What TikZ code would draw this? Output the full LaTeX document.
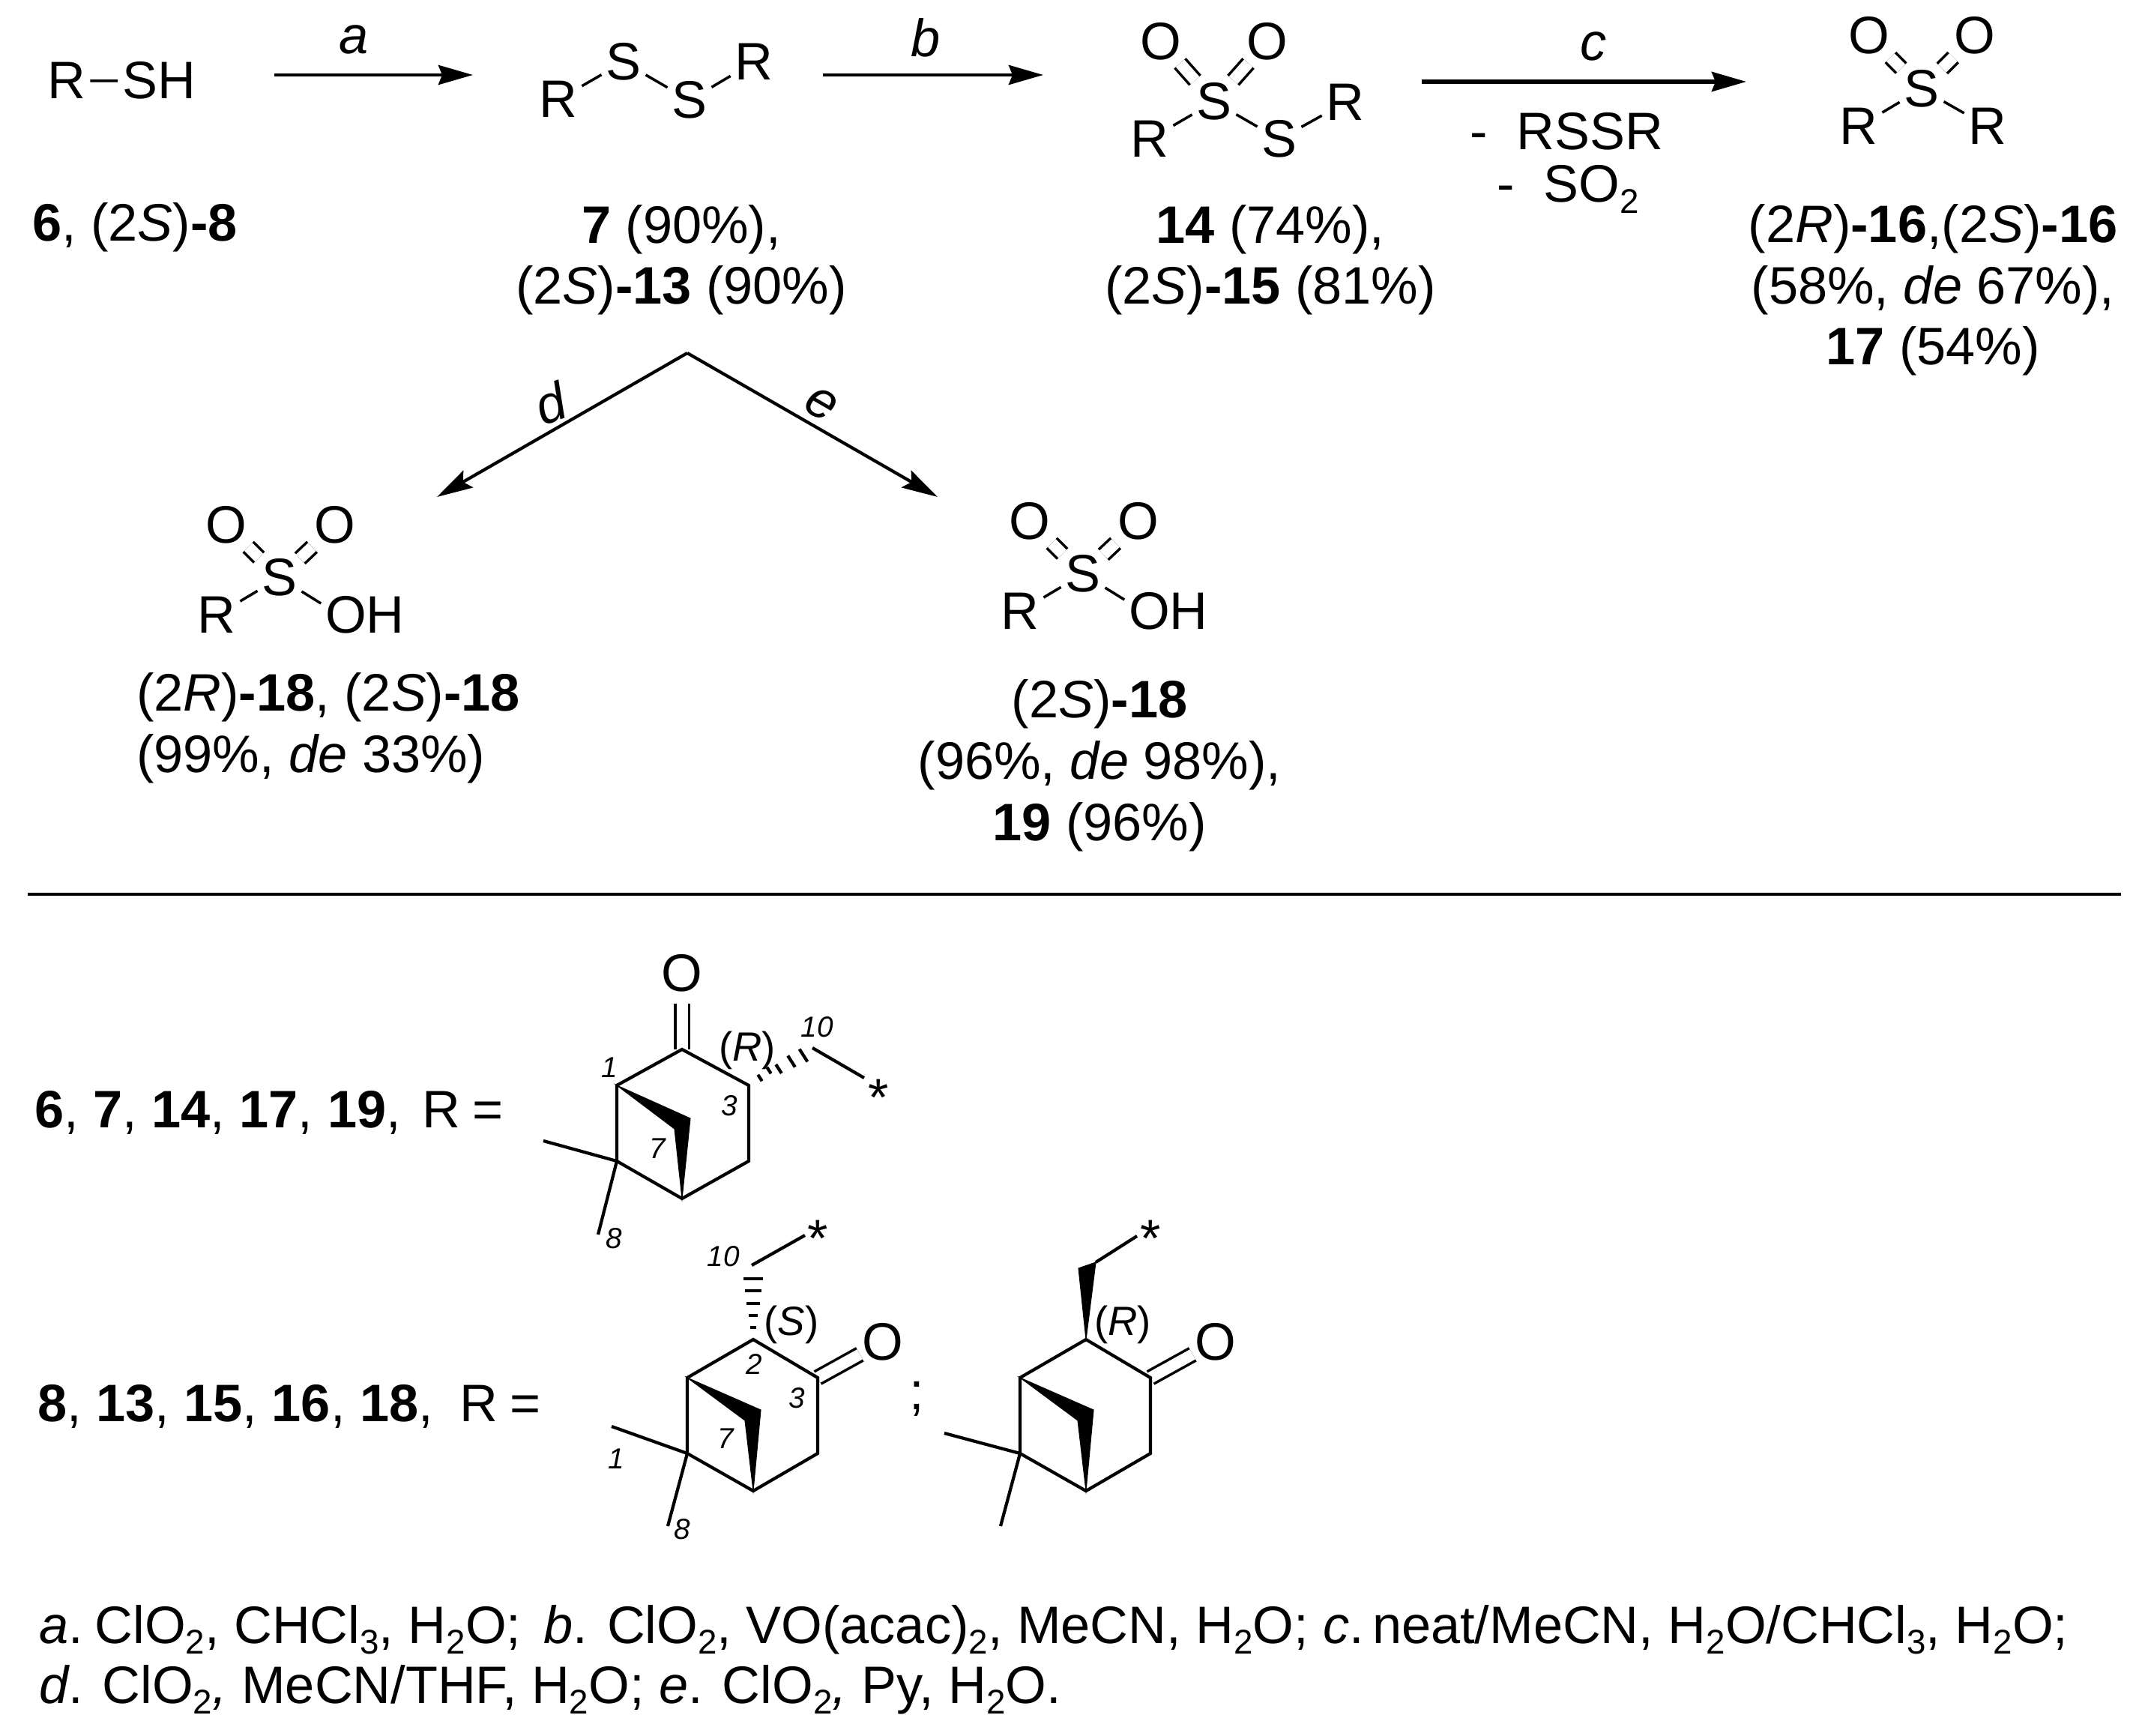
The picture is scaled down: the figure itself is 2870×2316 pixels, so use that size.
\documentclass[tikz,border=0pt]{standalone}
\usepackage{fontspec}
\setmainfont{Liberation Sans}
\usetikzlibrary{arrows.meta,positioning}
\newcommand{\subs}[1]{\raisebox{-4pt}{\fontsize{13}{13}\selectfont #1}}
\tikzset{
  txt/.style={anchor=base,inner sep=0pt,outer sep=0pt,font=\fontsize{20}{23.3}\selectfont},
  atom/.style={txt,inner sep=0.6mm},
  ltxt/.style={txt,anchor=base west},
  mtxt/.style={txt,align=center},
  cfg/.style={txt,font=\fontsize{15.5}{18}\selectfont},
  num/.style={txt,font=\fontsize{11}{13}\selectfont\itshape},
  bond/.style={line width=1.2pt},
  thin bond/.style={line width=1pt},
  dbl bond/.style={line width=1pt,double,double distance=1.5mm,shorten <=-0.3mm,shorten >=-0.3mm},
  hash/.style={line width=1.2pt},
  rxn/.style={line width=1.3pt,-{Stealth[length=4.6mm,width=2.6mm,inset=0.5mm]}},
  fork/.style={line width=1.2pt,-{Stealth[length=4.8mm,width=2.6mm,inset=0.8mm]}}
}
\begin{document}
\begin{tikzpicture}[x=0.01cm,y=-0.01cm]
  \useasboundingbox (0,0) rectangle (2870,2316);
  % top row
  \node[atom] (r0) at (89,132) {R};
  \node[atom] (sh0) at (212,132) {SH};
  \draw[thin bond] (r0) -- (sh0);
  \node[ltxt] (lab6) at (43,322) {\textbf{6}, (2\textit{S})\textbf{-8}};
  \coordinate (a0) at (366,100);
  \coordinate (a1) at (631,100);
  \draw[rxn] (a0) -- (a1);
  \node[txt] (la) at (472,72) {\textit{a}};

  \node[atom] (r1) at (745,157) {R};
  \node[atom] (s1) at (832,107) {S};
  \node[atom] (s2) at (920,158) {S};
  \node[atom] (r2) at (1006,107) {R};
  \draw[thin bond] (r1) -- (s1);
  \draw[thin bond] (s1) -- (s2);
  \draw[thin bond] (s2) -- (r2);
  \node[mtxt] (lab7) at (909,406) {\textbf{7} (90\%),\\(2\textit{S})\textbf{-13} (90\%)};
  \coordinate (b0) at (1098,100);
  \coordinate (b1) at (1392,100);
  \draw[rxn] (b0) -- (b1);
  \node[txt] (lb) at (1235,76) {\textit{b}};

  \node[atom] (o3) at (1549,80) {O};
  \node[atom] (o4) at (1691,80) {O};
  \node[atom] (s3) at (1620,160) {S};
  \node[atom] (r3) at (1534,210) {R};
  \node[atom] (s4) at (1707,210) {S};
  \node[atom] (r4) at (1795,161) {R};
  \draw[dbl bond] (s3) -- (o3);
  \draw[dbl bond] (s3) -- (o4);
  \draw[thin bond] (r3) -- (s3);
  \draw[thin bond] (s3) -- (s4);
  \draw[thin bond] (s4) -- (r4);
  \node[mtxt] (lab14) at (1695,406) {\textbf{14} (74\%),\\(2\textit{S})\textbf{-15} (81\%)};
  \coordinate (c0) at (1897,109);
  \coordinate (c1) at (2330,109);
  \draw[rxn,line width=1.6pt] (c0) -- (c1);
  \node[txt] (lc) at (2126,81) {\textit{c}};
  \node[ltxt] (loss1) at (1961,200) {-\ \ RSSR};
  \node[ltxt] (loss2) at (1997,270) {-\ \ SO\subs{2}};

  \node[atom] (o5) at (2494,72) {O};
  \node[atom] (o6) at (2635,72) {O};
  \node[atom] (s5) at (2564,143) {S};
  \node[atom] (r5) at (2480,193) {R};
  \node[atom] (r6) at (2652,193) {R};
  \draw[dbl bond] (s5) -- (o5);
  \draw[dbl bond] (s5) -- (o6);
  \draw[thin bond] (r5) -- (s5);
  \draw[thin bond] (s5) -- (r6);
  \node[mtxt] (lab16) at (2579,487) {(2\textit{R})\textbf{-16},(2\textit{S})\textbf{-16}\\(58\%, \textit{de} 67\%),\\\textbf{17} (54\%)};

  % fork
  \coordinate (fk) at (917,471);
  \coordinate (d1) at (583,663);
  \coordinate (e1) at (1251,663);
  \draw[fork] (fk) -- (d1);
  \draw[fork] (fk) -- (e1);
  \node[txt,anchor=center,rotate=20] (ld) at (735,538) {\textit{d}};
  \node[txt,anchor=center,rotate=-30] (le) at (1096,539) {\textit{e}};

  % sulfonic acids
  \foreach \p/\dx/\dy in {u/0/0,v/1072/-5}{
    \begin{scope}[shift={(\dx,\dy)}]
      \node[atom] (\p o1) at (302,725) {O};
      \node[atom] (\p o2) at (447,725) {O};
      \node[atom] (\p s) at (373,795) {S};
      \node[atom] (\p r) at (289,845) {R};
      \node[atom] (\p oh) at (487,845) {OH};
      \draw[dbl bond] (\p s) -- (\p o1);
      \draw[dbl bond] (\p s) -- (\p o2);
      \draw[thin bond] (\p r) -- (\p s);
      \draw[thin bond] (\p s) -- (\p oh.165);
    \end{scope}
  }
  \node[mtxt,align=left,anchor=base west] (lab18) at (182,1030) {(2\textit{R})\textbf{-18}, (2\textit{S})\textbf{-18}\\(99\%, \textit{de} 33\%)};
  \node[mtxt] (lab19) at (1467,1121) {(2\textit{S})\textbf{-18}\\(96\%, \textit{de} 98\%),\\\textbf{19} (96\%)};

  % rule
  \coordinate (rl) at (37,1193);
  \coordinate (rr) at (2830,1193);
  \draw[line width=1.4pt] (rl) -- (rr);

  % R = first
  \node[ltxt] (rdef1) at (46,1504) {\textbf{6}, \textbf{7}, \textbf{14}, \textbf{17}, \textbf{19},\ \kern-3pt\ R\kern-1pt\ =};
  \node[ltxt] (rdef2) at (50,1896) {\textbf{8}, \textbf{13}, \textbf{15}, \textbf{16}, \textbf{18},\ \kern-1pt\ R\kern-1pt\ =};

  \coordinate (a2) at (910,1400);
  \coordinate (a3) at (999,1448);
  \coordinate (a4) at (999,1549);
  \coordinate (a5) at (910,1599);
  \coordinate (a6) at (823,1549);
  \coordinate (a7) at (823,1448);
  \coordinate (aw1) at (921,1492);
  \coordinate (aw2) at (900,1506);
  \node[atom] (ao) at (910,1322) {O};
  \draw[dbl bond,shorten >=1mm,shorten <=0pt] (a2) -- (ao);
  \draw[bond] (a2) -- (a3) -- (a4) -- (a5) -- (a6) -- (a7) -- cycle;
  \draw[bond] (a6) -- (725,1522);
  \draw[bond] (a6) -- (798,1647);
  \filldraw[line width=0.3pt] (a7) -- (aw1) -- (a5) -- (aw2) -- cycle;
  \foreach \x/\y/\w in {1014/1438/5,1026/1428/5,1039/1426/7,1056/1416/9,1072/1408/10}
    \draw[hash] ({\x-.54*\w},{\y-.84*\w}) -- ({\x+.54*\w},{\y+.84*\w});
  \coordinate (a10) at (1084,1398);
  \coordinate (ae) at (1153,1438);
  \draw[bond] (a10) -- (ae);
  \node[txt] (ast) at (1172,1488) {*};
  \node[cfg] (acfg) at (997,1415) {(\textit{R})};
  \node[num] (an1) at (813,1437) {1};
  \node[num] (an3) at (973,1488) {3};
  \node[num] (an7) at (877,1545) {7};
  \node[num] (an8) at (819,1665) {8};
  \node[num] (an10) at (1090,1383) {10};

  % R = second, two rings
  \foreach \p/\dx/\my in {b/0/1903,c/444/1912}{
    \begin{scope}[shift={(\dx,0)}]
      \coordinate (\p2) at (1005,1787);
      \coordinate (\p3) at (1091,1838);
      \coordinate (\p4) at (1091,1939);
      \coordinate (\p5) at (1005,1989);
      \coordinate (\p6) at (917,1939);
      \coordinate (\p7) at (917,1838);
      \coordinate (\p w1) at (1015,1881);
      \coordinate (\p w2) at (994,1895);
      \coordinate (\p m1) at (816,\my);
      \coordinate (\p m2) at (891,2036);
      \node[atom] (\p o) at (1178,1814) {O};
      \draw[dbl bond,shorten <=0pt] (\p3) -- (\p o);
      \draw[bond] (\p2) -- (\p3) -- (\p4) -- (\p5) -- (\p6) -- (\p7) -- cycle;
      \draw[bond] (\p6) -- (\p m1);
      \draw[bond] (\p6) -- (\p m2);
      \filldraw[line width=0.3pt] (\p7) -- (\p w1) -- (\p5) -- (\p w2) -- cycle;
    \end{scope}
  }
  \foreach \y/\w in {1771/4,1755/6,1739/9,1722/11,1706/13}
    \draw[hash] ({1005-\w},\y) -- ({1005+\w},\y);
  \coordinate (b10) at (1003,1688);
  \coordinate (be) at (1074,1648);
  \draw[bond] (b10) -- (be);
  \node[txt] (bst) at (1091,1676) {*};
  \node[cfg] (bcfg) at (1056,1781) {(\textit{S})};
  \node[num] (bn2) at (1006,1833) {2};
  \node[num] (bn3) at (1063,1878) {3};
  \node[num] (bn7) at (968,1932) {7};
  \node[num] (bn1) at (822,1959) {1};
  \node[num] (bn8) at (910,2053) {8};
  \node[num] (bn10) at (965,1689) {10};
  \node[txt] (semi) at (1223,1880) {;};

  \coordinate (cw3) at (1439,1692);
  \coordinate (cw4) at (1462,1684);
  \coordinate (ce) at (1517,1649);
  \filldraw[line width=0.3pt] (c2) -- (cw3) -- (cw4) -- cycle;
  \draw[bond] (cw4) -- (ce);
  \node[txt] (cst) at (1535,1676) {*};
  \node[cfg] (ccfg) at (1498,1781) {(\textit{R})};

  % conditions
  \node[txt,align=left,anchor=base west,font=\fontsize{20}{22.7}\selectfont] (cond) at (52,2272) {\textit{a}.\kern-1pt\ ClO\subs{2}, CHCl\subs{3}, H\subs{2}O;\kern3pt\ \textit{b}. ClO\subs{2}, VO(acac)\subs{2}, MeCN, H\subs{2}O; \textit{c}.\kern-2.5pt\ neat/MeCN, H\subs{2}O/CHCl\subs{3}, H\subs{2}O;\\\textit{d}. ClO\subs{2}\textit{,} MeCN/THF, H\subs{2}O; \textit{e}. ClO\subs{2}\textit{,} Py, H\subs{2}O.};
\end{tikzpicture}
\end{document}
